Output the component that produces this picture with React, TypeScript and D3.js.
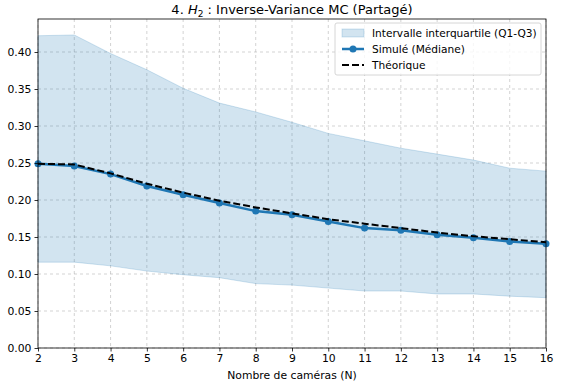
import { useEffect, useRef } from "react";
import * as d3 from "d3";

const cameras = [2, 3, 4, 5, 6, 7, 8, 9, 10, 11, 12, 13, 14, 15, 16];
const q3 = [0.422, 0.423, 0.398, 0.376, 0.351, 0.331, 0.319, 0.305, 0.29, 0.28, 0.27, 0.262, 0.254, 0.243, 0.239];
const q1 = [0.116, 0.116, 0.111, 0.104, 0.099, 0.095, 0.087, 0.085, 0.081, 0.077, 0.077, 0.073, 0.073, 0.07, 0.068];
const median = [0.249, 0.246, 0.235, 0.219, 0.207, 0.196, 0.185, 0.18, 0.171, 0.162, 0.159, 0.153, 0.149, 0.144, 0.141];
const theory = [0.249, 0.248, 0.236, 0.222, 0.21, 0.199, 0.19, 0.182, 0.174, 0.168, 0.162, 0.156, 0.151, 0.147, 0.143];
const yTicks = [0, 0.05, 0.1, 0.15, 0.2, 0.25, 0.3, 0.35, 0.4];

const W = 568;
const H = 383;
const FONT = "DejaVu Sans, sans-serif";

export default function App() {
  const svgRef = useRef<SVGSVGElement>(null);

  useEffect(() => {
    if (!svgRef.current) return;
    const svg = d3.select(svgRef.current);
    svg.selectAll("*").remove();

    const margin = { top: 19, right: 22, bottom: 35, left: 38 };
    const w = W - margin.left - margin.right;
    const h = H - margin.top - margin.bottom;

    const g = svg.append("g").attr("transform", `translate(${margin.left},${margin.top})`);

    const x = d3.scaleLinear().domain([2, 16]).range([0, w]);
    const y = d3.scaleLinear().domain([0, 0.4446]).range([h, 0]);

    // grid
    cameras.forEach((c) => {
      g.append("line")
        .attr("x1", x(c)).attr("x2", x(c)).attr("y1", 0).attr("y2", h)
        .attr("stroke", "#b0b0b0").attr("stroke-opacity", 0.7)
        .attr("stroke-dasharray", "3,3").attr("stroke-width", 0.8);
    });
    yTicks.forEach((t) => {
      g.append("line")
        .attr("x1", 0).attr("x2", w).attr("y1", y(t)).attr("y2", y(t))
        .attr("stroke", "#b0b0b0").attr("stroke-opacity", 0.7)
        .attr("stroke-dasharray", "3,3").attr("stroke-width", 0.8);
    });

    // IQR band
    const area = d3.area<number>()
      .x((_, i) => x(cameras[i]))
      .y0((_, i) => y(q1[i]))
      .y1((d) => y(d));
    g.append("path")
      .datum(q3)
      .attr("fill", "#1f77b4").attr("fill-opacity", 0.2)
      .attr("stroke", "#1f77b4").attr("stroke-opacity", 0.2)
      .attr("d", area);

    const line = d3.line<number>().x((_, i) => x(cameras[i])).y((d) => y(d));

    // median
    g.append("path").datum(median)
      .attr("fill", "none").attr("stroke", "#1f77b4").attr("stroke-width", 2.5)
      .attr("d", line);
    median.forEach((m, i) => {
      g.append("circle").attr("cx", x(cameras[i])).attr("cy", y(m)).attr("r", 3.5).attr("fill", "#1f77b4");
    });

    // theory
    g.append("path").datum(theory)
      .attr("fill", "none").attr("stroke", "#000").attr("stroke-width", 2)
      .attr("stroke-dasharray", "7,3")
      .attr("d", line);

    // frame
    g.append("rect").attr("width", w).attr("height", h)
      .attr("fill", "none").attr("stroke", "#000").attr("stroke-width", 0.8);

    // axes
    const xAxis = g.append("g").attr("transform", `translate(0,${h})`)
      .call(d3.axisBottom(x).tickValues(cameras).tickFormat(d3.format("d")).tickSize(3.5).tickPadding(3));
    const yAxis = g.append("g")
      .call(d3.axisLeft(y).tickValues(yTicks).tickFormat(d3.format(".2f")).tickSize(3.5).tickPadding(3));
    [xAxis, yAxis].forEach((a) => {
      a.select(".domain").remove();
      a.selectAll("text").attr("font-family", FONT).attr("font-size", 10.8).attr("fill", "#000");
      a.selectAll("line").attr("stroke", "#000").attr("stroke-width", 0.8);
    });

    // x label
    g.append("text").attr("x", w / 2).attr("y", h + 31)
      .attr("text-anchor", "middle").attr("font-family", FONT).attr("font-size", 10.8)
      .text("Nombre de caméras (N)");

    // title
    const title = svg.append("text").attr("x", margin.left + w / 2).attr("y", 14)
      .attr("text-anchor", "middle").attr("font-family", FONT).attr("font-size", 13);
    title.append("tspan").text("4. ");
    title.append("tspan").attr("font-style", "italic").text("H");
    title.append("tspan").attr("font-size", 9).attr("dy", 3).text("2");
    title.append("tspan").attr("dy", -3).text(" : Inverse-Variance MC (Partagé)");

    // legend
    const lg = g.append("g").attr("transform", `translate(${w - 211},4)`);
    lg.append("rect").attr("width", 206).attr("height", 52).attr("rx", 2)
      .attr("fill", "#fff").attr("fill-opacity", 0.8)
      .attr("stroke", "#ccc").attr("stroke-width", 0.8);
    lg.append("rect").attr("x", 7).attr("y", 6).attr("width", 22).attr("height", 8)
      .attr("fill", "#1f77b4").attr("fill-opacity", 0.2).attr("stroke", "#1f77b4").attr("stroke-opacity", 0.2);
    lg.append("line").attr("x1", 7).attr("x2", 29).attr("y1", 26).attr("y2", 26)
      .attr("stroke", "#1f77b4").attr("stroke-width", 2.5);
    lg.append("circle").attr("cx", 18).attr("cy", 26).attr("r", 3.5).attr("fill", "#1f77b4");
    lg.append("line").attr("x1", 7).attr("x2", 29).attr("y1", 42).attr("y2", 42)
      .attr("stroke", "#000").attr("stroke-width", 2).attr("stroke-dasharray", "7,3");
    const labels = ["Intervalle interquartile (Q1-Q3)", "Simulé (Médiane)", "Théorique"];
    labels.forEach((l, i) => {
      lg.append("text").attr("x", 37).attr("y", 10 + i * 16).attr("dy", "0.35em")
        .attr("font-family", FONT).attr("font-size", 10.6).text(l);
    });
  }, []);

  return (
    <svg
      ref={svgRef}
      width={W}
      height={H}
      style={{ position: "absolute", left: 0, top: 0, background: "#fff" }}
    />
  );
}
